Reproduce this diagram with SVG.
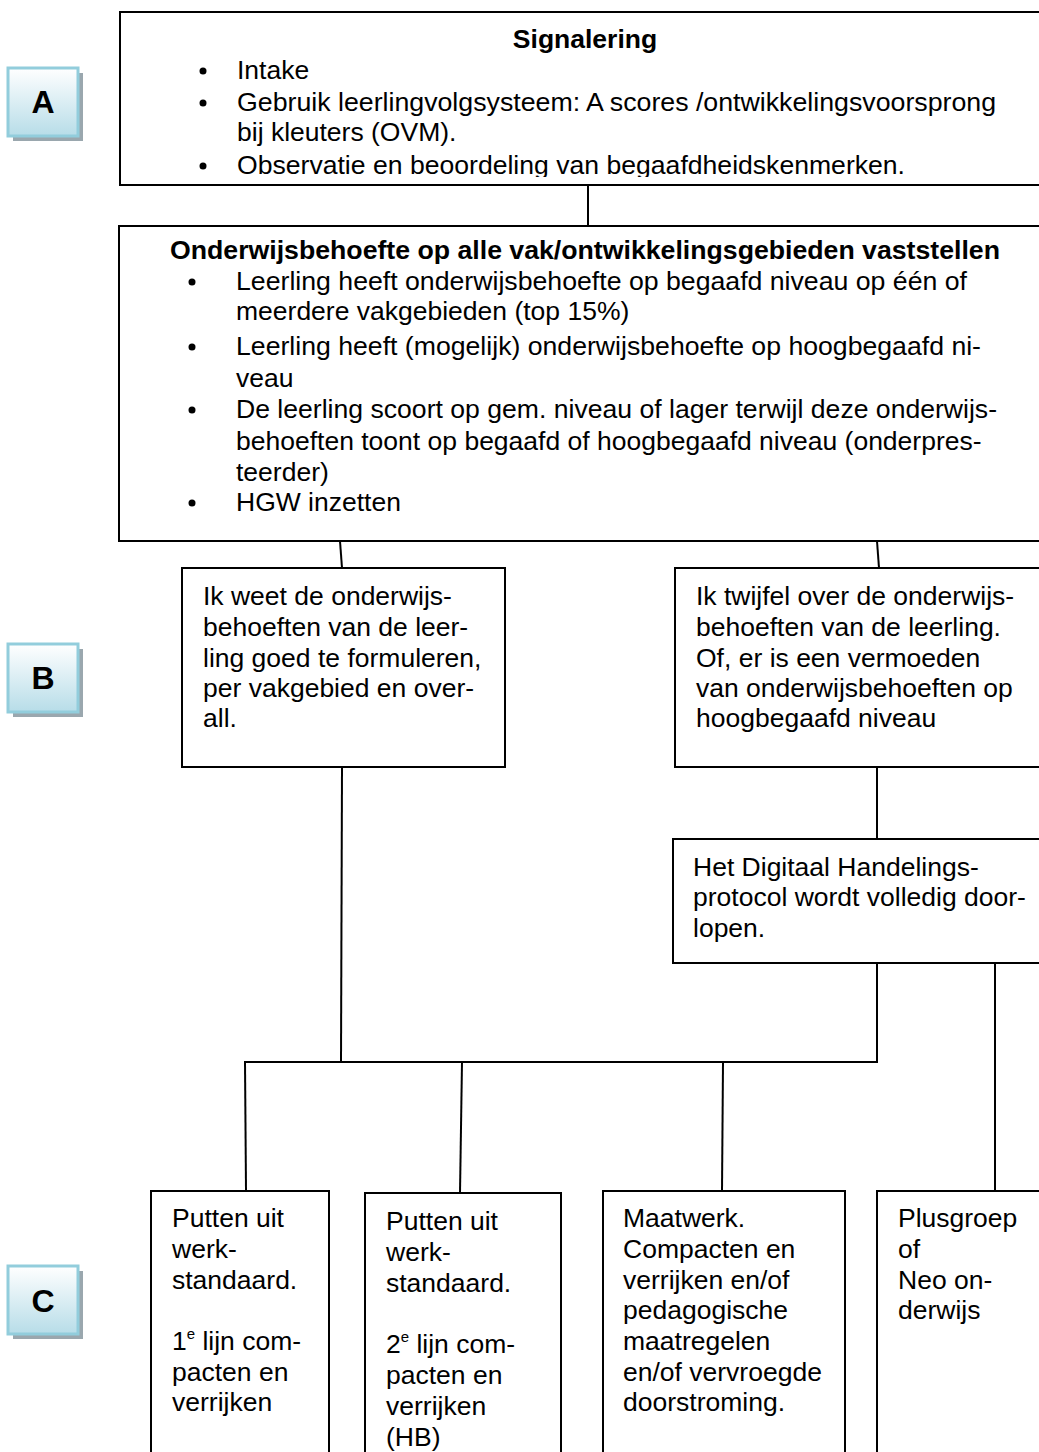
<svg xmlns="http://www.w3.org/2000/svg" width="1039" height="1452" viewBox="0 0 1039 1452">
<style>
text{font-family:"Liberation Sans",Arial,sans-serif;font-size:26.5px;fill:#000}
.b{font-weight:bold}
.box{fill:#fff;stroke:#000;stroke-width:2}
.lbl{fill:url(#lg);stroke:#92cddc;stroke-width:3}
.sh{fill:#9aa7ae}
.lt{font-weight:bold;font-size:32px;text-anchor:middle}
.con{stroke:#000;stroke-width:2;fill:none}
</style>
<defs>
<linearGradient id="lg" x1="0" y1="0" x2="0" y2="1">
<stop offset="0" stop-color="#ffffff"/>
<stop offset="1" stop-color="#b7dde8"/>
</linearGradient>
<clipPath id="c1"><rect x="120" y="12" width="930" height="165"/></clipPath>
</defs>

<g id="label-A">
<rect class="sh" x="13" y="73" width="70" height="68"/>
<rect class="lbl" x="8" y="68" width="70" height="68"/>
<text class="lt" x="43" y="113">A</text>
</g>
<g id="label-B">
<rect class="sh" x="13" y="649" width="70" height="68"/>
<rect class="lbl" x="8" y="644" width="70" height="68"/>
<text class="lt" x="43" y="689">B</text>
</g>
<g id="label-C">
<rect class="sh" x="13" y="1271" width="70" height="68"/>
<rect class="lbl" x="8" y="1266" width="70" height="68"/>
<text class="lt" x="43" y="1312">C</text>
</g>

<g id="connectors">
<line class="con" x1="588" y1="185" x2="588" y2="226"/>
<line class="con" x1="340" y1="541" x2="342" y2="568"/>
<line class="con" x1="877" y1="541" x2="879" y2="568"/>
<line class="con" x1="342" y1="767" x2="341" y2="1062"/>
<line class="con" x1="877" y1="767" x2="877" y2="839"/>
<line class="con" x1="877" y1="963" x2="877" y2="1062"/>
<line class="con" x1="995" y1="963" x2="995" y2="1191"/>
<line class="con" x1="244" y1="1062" x2="878" y2="1062"/>
<line class="con" x1="245" y1="1062" x2="246" y2="1191"/>
<line class="con" x1="462" y1="1062" x2="460" y2="1193"/>
<line class="con" x1="723" y1="1062" x2="722" y2="1191"/>
</g>

<g id="signalering">
<rect class="box" x="120" y="12" width="930" height="173"/>
<g clip-path="url(#c1)">
<text class="b" x="585" y="48" text-anchor="middle">Signalering</text>
<circle cx="203" cy="71" r="3.5"/>
<text x="237" y="79">Intake</text>
<circle cx="203" cy="103" r="3.5"/>
<text x="237" y="111" textLength="759" lengthAdjust="spacingAndGlyphs">Gebruik leerlingvolgsysteem: A scores /ontwikkelingsvoorsprong</text>
<text x="237" y="141">bij kleuters (OVM).</text>
<circle cx="203" cy="166" r="3.5"/>
<text x="237" y="174" textLength="668" lengthAdjust="spacingAndGlyphs">Observatie en beoordeling van begaafdheidskenmerken.</text>
</g>
</g>

<g id="onderwijsbehoefte">
<rect class="box" x="119" y="226" width="930" height="315"/>
<text class="b" x="170" y="259" textLength="830" lengthAdjust="spacingAndGlyphs">Onderwijsbehoefte op alle vak/ontwikkelingsgebieden vaststellen</text>
<circle cx="192" cy="282" r="3.5"/>
<text x="236" y="290" textLength="731" lengthAdjust="spacingAndGlyphs">Leerling heeft onderwijsbehoefte op begaafd niveau op één of</text>
<text x="236" y="320">meerdere vakgebieden (top 15%)</text>
<circle cx="192" cy="347" r="3.5"/>
<text x="236" y="355" textLength="745" lengthAdjust="spacingAndGlyphs">Leerling heeft (mogelijk) onderwijsbehoefte op hoogbegaafd ni-</text>
<text x="236" y="387">veau</text>
<circle cx="192" cy="410" r="3.5"/>
<text x="236" y="418" textLength="761" lengthAdjust="spacingAndGlyphs">De leerling scoort op gem. niveau of lager terwijl deze onderwijs-</text>
<text x="236" y="450">behoeften toont op begaafd of hoogbegaafd niveau (onderpres-</text>
<text x="236" y="481">teerder)</text>
<circle cx="192" cy="503" r="3.5"/>
<text x="236" y="511">HGW inzetten</text>
</g>

<g id="weet">
<rect class="box" x="182" y="568" width="323" height="199"/>
<text x="203" y="605">Ik weet de onderwijs-</text>
<text x="203" y="636">behoeften van de leer-</text>
<text x="203" y="667">ling goed te formuleren,</text>
<text x="203" y="697">per vakgebied en over-</text>
<text x="203" y="727">all.</text>
</g>

<g id="twijfel">
<rect class="box" x="675" y="568" width="380" height="199"/>
<text x="696" y="605">Ik twijfel over de onderwijs-</text>
<text x="696" y="636">behoeften van de leerling.</text>
<text x="696" y="667">Of, er is een vermoeden</text>
<text x="696" y="697">van onderwijsbehoeften op</text>
<text x="696" y="727">hoogbegaafd niveau</text>
</g>

<g id="digitaal">
<rect class="box" x="673" y="839" width="380" height="124"/>
<text x="693" y="876">Het Digitaal Handelings-</text>
<text x="693" y="906">protocol wordt volledig door-</text>
<text x="693" y="937">lopen.</text>
</g>

<g id="lijn1">
<rect class="box" x="151" y="1191" width="178" height="280"/>
<text x="172" y="1227">Putten uit</text>
<text x="172" y="1258">werk-</text>
<text x="172" y="1289">standaard.</text>
<text x="172" y="1350">1<tspan dy="-11" font-size="15">e</tspan><tspan dy="11"> lijn com-</tspan></text>
<text x="172" y="1381">pacten en</text>
<text x="172" y="1411">verrijken</text>
</g>

<g id="lijn2">
<rect class="box" x="365" y="1193" width="196" height="280"/>
<text x="386" y="1230">Putten uit</text>
<text x="386" y="1261">werk-</text>
<text x="386" y="1292">standaard.</text>
<text x="386" y="1353">2<tspan dy="-11" font-size="15">e</tspan><tspan dy="11"> lijn com-</tspan></text>
<text x="386" y="1384">pacten en</text>
<text x="386" y="1415">verrijken</text>
<text x="386" y="1446">(HB)</text>
</g>

<g id="maatwerk">
<rect class="box" x="603" y="1191" width="242" height="280"/>
<text x="623" y="1227">Maatwerk.</text>
<text x="623" y="1258">Compacten en</text>
<text x="623" y="1289">verrijken en/of</text>
<text x="623" y="1319">pedagogische</text>
<text x="623" y="1350">maatregelen</text>
<text x="623" y="1381">en/of vervroegde</text>
<text x="623" y="1411">doorstroming.</text>
</g>

<g id="plusgroep">
<rect class="box" x="877" y="1191" width="180" height="280"/>
<text x="898" y="1227">Plusgroep</text>
<text x="898" y="1258">of</text>
<text x="898" y="1289">Neo on-</text>
<text x="898" y="1319">derwijs</text>
</g>
</svg>
